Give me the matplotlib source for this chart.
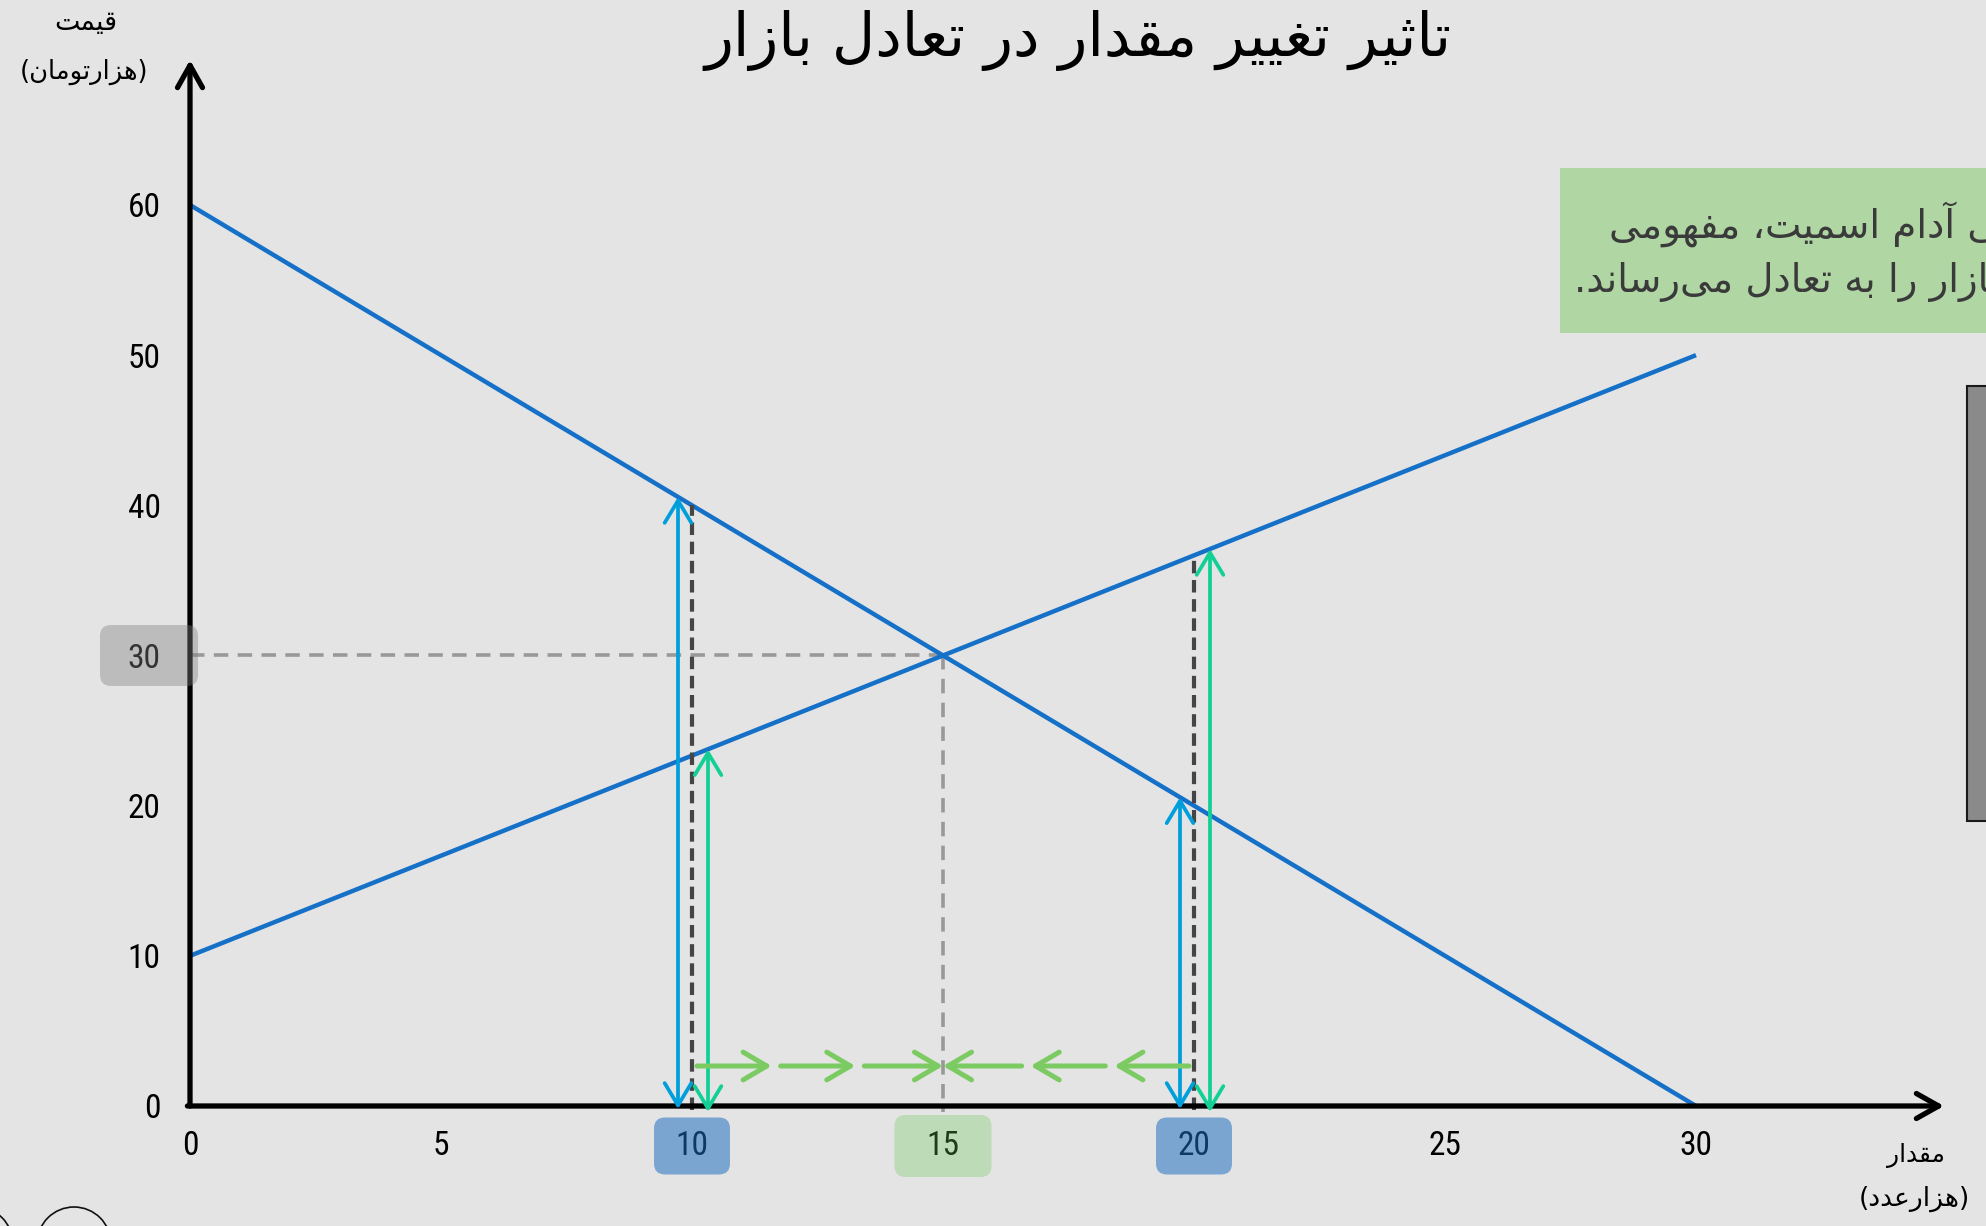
import numpy as np
import matplotlib
matplotlib.use("Agg")
import matplotlib.pyplot as plt
from matplotlib.patches import FancyBboxPatch, FancyArrowPatch, Rectangle, Circle, ArrowStyle
from matplotlib.transforms import IdentityTransform

# ---------------- data ----------------
q_ticks = [0, 5, 10, 15, 20, 25, 30]
p_ticks = [0, 10, 20, 30, 40, 50, 60]
demand_q = [0, 30]
demand_p = [60, 0]
supply_q = [0, 30]
supply_p = [10, 50]
q_equilibrium = 15
p_equilibrium = 30
q_low = 10
q_high = 20
highlight_q = [10, 15, 20]
highlight_p = [30]

title = "تاثیر تغییر مقدار در تعادل بازار"
y_label = ["قیمت", "(هزارتومان)"]
x_label = ["مقدار", "(هزارعدد)"]
note_lines = ["دست نامرئی آدام اسمیت، مفهومی",
              "است که بازار را به تعادل می\u200cرساند."]

# ---------------- minimal Persian shaping (presentation forms + RTL) ----------------
_DUAL = {'\u0626': 0xFE89, '\u0628': 0xFE8F, '\u062A': 0xFE95, '\u062B': 0xFE99,
         '\u062C': 0xFE9D, '\u062D': 0xFEA1, '\u062E': 0xFEA5, '\u0633': 0xFEB1,
         '\u0634': 0xFEB5, '\u0635': 0xFEB9, '\u0636': 0xFEBD, '\u0637': 0xFEC1,
         '\u0638': 0xFEC5, '\u0639': 0xFEC9, '\u063A': 0xFECD, '\u0641': 0xFED1,
         '\u0642': 0xFED5, '\u0644': 0xFEDD, '\u0645': 0xFEE1, '\u0646': 0xFEE5,
         '\u0647': 0xFEE9, '\u064A': 0xFEF1, '\u067E': 0xFB56, '\u0686': 0xFB7A,
         '\u06A9': 0xFB8E, '\u06AF': 0xFB92, '\u06CC': 0xFBFC}
_RIGHT = {'\u0622': 0xFE81, '\u0627': 0xFE8D, '\u062F': 0xFEA9, '\u0630': 0xFEAB,
          '\u0631': 0xFEAD, '\u0632': 0xFEAF, '\u0648': 0xFEED, '\u0698': 0xFB8A,
          '\u0629': 0xFE93}


def shape(s):
    chars = list(s)
    out = []
    for i, c in enumerate(chars):
        if c in _DUAL or c in _RIGHT:
            prev = chars[i - 1] if i > 0 else None
            nxt = chars[i + 1] if i < len(chars) - 1 else None
            jp = prev in _DUAL
            jn = (c in _DUAL) and (nxt in _DUAL or nxt in _RIGHT)
            base = _DUAL.get(c, _RIGHT.get(c))
            off = 3 if (jp and jn) else 1 if jp else 2 if jn else 0
            out.append(chr(base + off))
        elif c == '\u200c':
            continue
        else:
            out.append(c)
    mirror = {'(': ')', ')': '('}
    return ''.join(mirror.get(c, c) for c in reversed(out))


# ---------------- figure / axes ----------------
W, H = 1986, 1226
BG = '#e4e4e4'
fig = plt.figure(figsize=(W / 100, H / 100), dpi=100, facecolor=BG)

OX, OY = 190, 1106          # origin in pixels
PX_X, PX_Y = 50.2, 15.017   # pixels per data unit
X_END, Y_END = 1944, 60
xmax = (X_END - OX) / PX_X
ymax = (OY - Y_END) / PX_Y


def dx(px):
    return px / PX_X


def dy(px):
    return px / PX_Y


ax = fig.add_axes([OX / W, (H - OY) / H, (X_END - OX) / W, (OY - Y_END) / H])
ax.set_xlim(0, xmax)
ax.set_ylim(0, ymax)
ax.set_facecolor('none')
for s in ax.spines.values():
    s.set_visible(False)

TICK_FONT = ['Roboto Condensed', 'Liberation Sans Narrow', 'Open Sans Condensed', 'Roboto', 'DejaVu Sans']
ax.set_xticks(q_ticks, [str(v) for v in q_ticks])
ax.set_yticks(p_ticks, [str(v) for v in p_ticks])
ax.tick_params(axis='x', length=0, labelsize=24, pad=17)
ax.tick_params(axis='y', length=0, labelsize=24, pad=21)
for lab in ax.get_xticklabels() + ax.get_yticklabels():
    lab.set_family(TICK_FONT)
    lab.set_stretch('condensed')
    lab.set_color('black')

# axis arrows
axis_style = ArrowStyle('->', head_length=0.8, head_width=0.45)
ax.add_patch(FancyArrowPatch((0, 0), (0, ymax), arrowstyle=axis_style, mutation_scale=20,
                             lw=3.8, color='black', shrinkA=0, shrinkB=0, clip_on=False, zorder=4))
ax.add_patch(FancyArrowPatch((-dx(2.6), 0), (xmax, 0), arrowstyle=axis_style, mutation_scale=20,
                             lw=3.8, color='black', shrinkA=0, shrinkB=0, clip_on=False, zorder=4))

# demand & supply
LINE_BLUE = '#1570c8'
ax.plot(demand_q, demand_p, color=LINE_BLUE, lw=3.2, solid_capstyle='butt', zorder=3, clip_on=False)
ax.plot(supply_q, supply_p, color=LINE_BLUE, lw=3.2, solid_capstyle='butt', zorder=3, clip_on=False)


def demand(q):
    return float(np.interp(q, demand_q, demand_p))


def supply(q):
    return float(np.interp(q, supply_q, supply_p))


# equilibrium guides
GRAY_DASH = (0, (4, 2.6))
ax.plot([0, q_equilibrium], [p_equilibrium, p_equilibrium], color='#999999', lw=2.6,
        linestyle=GRAY_DASH, zorder=2)
ax.plot([q_equilibrium, q_equilibrium], [p_equilibrium, -dy(6)], color='#999999', lw=2.6,
        linestyle=GRAY_DASH, zorder=2, clip_on=False)

# vertical markers at low / high quantities
DARK_DASH = (0, (3.0, 1.6))
dbl = ArrowStyle('<->', head_length=0.8, head_width=0.48)
for q in (q_low, q_high):
    top = max(demand(q), supply(q))
    ax.plot([q, q], [-dy(4), top], color='#454545', lw=3.0, linestyle=DARK_DASH,
            zorder=3, clip_on=False)
    qb = q - dx(14)
    ax.add_patch(FancyArrowPatch((qb, -dy(3)), (qb, demand(qb)), arrowstyle=dbl, mutation_scale=20,
                                 lw=2.7, color='#009fdc', shrinkA=0, shrinkB=0, clip_on=False, zorder=4))
    qg = q + dx(16)
    ax.add_patch(FancyArrowPatch((qg, -dy(6)), (qg, supply(qg)), arrowstyle=dbl, mutation_scale=20,
                                 lw=2.7, color='#12d095', shrinkA=0, shrinkB=0, clip_on=False, zorder=4))

# horizontal convergence arrows
arrow_y = dy(40)
single = ArrowStyle('->', head_length=0.85, head_width=0.5)
for start in (q_low, q_high):
    edges = np.linspace(start, q_equilibrium, 4)
    sgn = np.sign(q_equilibrium - start)
    for i in range(3):
        a = edges[i] + sgn * dx(5)
        b = edges[i + 1] - (0 if i == 2 else sgn * dx(4))
        ax.add_patch(FancyArrowPatch((a, arrow_y), (b, arrow_y), arrowstyle=single, mutation_scale=20,
                                     lw=3.6, color='#7bcb62', shrinkA=0, shrinkB=0, zorder=4))

# highlight boxes over tick labels (translucent overlays)
aspect = PX_X / PX_Y
label_y = -dy(40)
box_styles = {10: ('#1a6dc0', 0.53, 76, 57), 15: ('#64c850', 0.30, 97, 62), 20: ('#1a6dc0', 0.53, 76, 57)}
for q in highlight_q:
    col, alpha, wpx, hpx = box_styles[q]
    ax.add_patch(FancyBboxPatch((q - dx(wpx) / 2, label_y - dy(hpx) / 2), dx(wpx), dy(hpx),
                                boxstyle='round,pad=0,rounding_size=%f' % dx(11),
                                mutation_aspect=aspect, fc=col, ec='none', alpha=alpha,
                                clip_on=False, zorder=6))
for p in highlight_p:
    ax.add_patch(FancyBboxPatch((-dx(90), p - dy(61) / 2), dx(98), dy(61),
                                boxstyle='round,pad=0,rounding_size=%f' % dx(11),
                                mutation_aspect=aspect, fc='#808080', ec='none', alpha=0.4,
                                clip_on=False, zorder=6))

# ---------------- texts ----------------
AR_FONT = ['DejaVu Sans']
renderer = fig.canvas.get_renderer()


def fit(t, target):
    w = t.get_window_extent(renderer).width
    t.set_fontsize(t.get_fontsize() * target / w)


t_title = fig.text(1078 / W, 1 - 56 / H, shape(title), ha='center', va='baseline',
                   fontsize=40, family=AR_FONT, color='black')
fit(t_title, 749)

t = fig.text(86 / W, 1 - 23 / H, shape(y_label[0]), ha='center', va='center', fontsize=18,
             family=AR_FONT, color='black')
fit(t, 63)
t = fig.text(84 / W, 1 - 72 / H, shape(y_label[1]), ha='center', va='center', fontsize=18,
             family=AR_FONT, color='black')
fit(t, 129)
t = fig.text(1916 / W, 1 - 1155 / H, shape(x_label[0]), ha='center', va='center', fontsize=18,
             family=AR_FONT, color='black')
fit(t, 58)
t = fig.text(1914 / W, 1 - 1199 / H, shape(x_label[1]), ha='center', va='center', fontsize=18,
             family=AR_FONT, color='black')
fit(t, 111)

# note box (runs past the right edge of the canvas, as in the original)
fig.add_artist(Rectangle((1560 / W, 1 - 333 / H), (W - 1560) / W + 0.01, (333 - 168) / H,
                         transform=fig.transFigure, fc='#b0d6a4', ec='none', zorder=1))
probe = fig.text(0, 0, shape("آدام اسمیت، مفهومی"), fontsize=28, family=AR_FONT)
fit(probe, 346)
note_fs = probe.get_fontsize()
probe.remove()
fig.text(1609 / W, 1 - 224 / H, shape(note_lines[0]), ha='left', va='center', fontsize=note_fs,
         family=AR_FONT, color='#3a3a3a', zorder=2)
fig.text(1574 / W, 1 - 282 / H, shape(note_lines[1]), ha='left', va='center', fontsize=note_fs,
         family=AR_FONT, color='#3a3a3a', zorder=2)

# decorative elements at the canvas edges
fig.add_artist(Rectangle((1967, H - 821), 40, 435, transform=IdentityTransform(),
                         fc='#8a8a8a', ec='#1a1a1a', lw=1.5))
for cx in (-24, 74):
    fig.add_artist(Circle((cx, H - 1244), 37, transform=IdentityTransform(),
                          fill=False, ec='#111111', lw=1.2))

fig.savefig('out.png', dpi=100, facecolor=BG)
